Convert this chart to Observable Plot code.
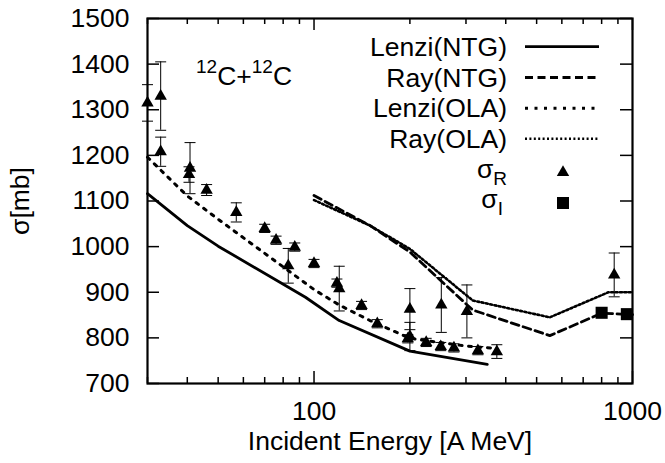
<!DOCTYPE html>
<html>
<head>
<meta charset="utf-8">
<script src="https://cdn.jsdelivr.net/npm/d3@7"></script>
<script src="https://cdn.jsdelivr.net/npm/@observablehq/plot@0.6"></script>
<style>
  html, body { margin: 0; padding: 0; background: #fff; }
  #chart svg { display: block; }
</style>
</head>
<body>
<div id="chart"></div>
<script>
// ---- Data ----
const lenziNTG_E     = [30, 40, 50, 94, 120, 200, 350];
const lenziNTG_sigma = [1116, 1046, 1001, 889, 838, 771, 742];

const rayNTG_E       = [100, 150, 200, 315, 550, 800, 1000];
const rayNTG_sigma   = [1112, 1046, 988, 861, 805, 854, 851];

const lenziOLA_E     = [30, 40, 50, 100, 120, 150, 200, 300, 375];
const lenziOLA_sigma = [1196, 1111, 1060, 906, 872, 838, 799, 782, 777];

const rayOLA_E       = [100, 150, 200, 315, 550, 840, 1000];
const rayOLA_sigma   = [1102, 1046, 995, 882, 845, 900, 900];

const sigmaR_E   = [30, 33, 33, 40.8, 40.5, 46, 57, 70, 76, 83, 87, 100, 118, 120, 141, 158, 200, 200, 197, 225, 251, 250, 275, 302, 327, 375, 876];
const sigmaR     = [1315, 1330, 1208, 1172, 1158, 1124, 1075, 1040, 1014, 958, 999, 963, 920, 908, 871, 831, 863, 803, 798, 790, 872, 781, 778, 858, 772, 770, 938];
const sigmaR_err = [40, 75, 32, 56, 17, 12, 21, 9, 9, 38, 9, 9, 9, 49, 9, 9, 45, 31, 9, 9, 60, 9, 9, 58, 9, 15, 48];

const sigmaI_E   = [800, 960];
const sigmaI     = [855, 852];

const xMajorTicks = [100, 1000];
const xMinorTicks = [30, 40, 50, 60, 70, 80, 90, 200, 300, 400, 500, 600, 700, 800, 900];
const yTicks      = [700, 800, 900, 1000, 1100, 1200, 1300, 1400, 1500];

const xLabel = "Incident Energy [A MeV]";
const yLabel = "σ[mb]";

// ---- Layout ----
const W = 665, H = 463;
const mL = 147, mR = 33, mT = 18, mB = 80;
const plotW = W - mL - mR, plotH = H - mT - mB;
const FS = 26.5, FSsub = 19;
const font = "'Liberation Sans', Arial, Helvetica, sans-serif";

const capSymbol = { draw(ctx) { ctx.moveTo(-5.5, 0); ctx.lineTo(5.5, 0); } };
const sigmaR_lo = sigmaR.map((v, i) => v - sigmaR_err[i]);
const sigmaR_hi = sigmaR.map((v, i) => v + sigmaR_err[i]);

const rayOLADash = "2,2.4";

const chart = Plot.plot({
  width: W, height: H,
  marginLeft: mL, marginRight: mR, marginTop: mT, marginBottom: mB,
  x: {type: "log", domain: [30, 1000], axis: null},
  y: {domain: [700, 1500], axis: null},
  style: {fontFamily: font, fontSize: FS + "px", background: "#fff", color: "#000"},
  marks: [
    // ticks (inward, mirrored)
    Plot.tickX(xMajorTicks, {x: d => d, insetTop: plotH - 12, stroke: "#000", strokeWidth: 1.5}),
    Plot.tickX(xMajorTicks, {x: d => d, insetBottom: plotH - 12, stroke: "#000", strokeWidth: 1.5}),
    Plot.tickX(xMinorTicks, {x: d => d, insetTop: plotH - 6, stroke: "#000", strokeWidth: 1.5}),
    Plot.tickX(xMinorTicks, {x: d => d, insetBottom: plotH - 6, stroke: "#000", strokeWidth: 1.5}),
    Plot.tickY(yTicks, {y: d => d, insetRight: plotW - 12, stroke: "#000", strokeWidth: 1.5}),
    Plot.tickY(yTicks, {y: d => d, insetLeft: plotW - 12, stroke: "#000", strokeWidth: 1.5}),
    // tick labels
    Plot.text(xMajorTicks, {x: d => d, frameAnchor: "bottom", dy: 18, lineAnchor: "top", text: d => String(d), fontSize: FS, fill: "#000"}),
    Plot.text(yTicks, {y: d => d, frameAnchor: "left", dx: -18, textAnchor: "end", lineAnchor: "middle", text: d => String(d), fontSize: FS, fill: "#000"}),
    // axis titles
    Plot.text([xLabel], {frameAnchor: "bottom", dy: 58, lineAnchor: "middle", text: d => d, fontSize: FS, fill: "#000"}),
    Plot.text([yLabel], {frameAnchor: "left", dx: -127, rotate: -90, textAnchor: "middle", lineAnchor: "middle", text: d => d, fontSize: FS, fill: "#000"}),
    // theory curves
    Plot.line(lenziNTG_E, {x: lenziNTG_E, y: lenziNTG_sigma, stroke: "#000", strokeWidth: 2.8}),
    Plot.line(rayNTG_E, {x: rayNTG_E, y: rayNTG_sigma, stroke: "#000", strokeWidth: 2.8, strokeDasharray: "8,4.5"}),
    Plot.line(lenziOLA_E, {x: lenziOLA_E, y: lenziOLA_sigma, stroke: "#000", strokeWidth: 3, strokeDasharray: "3,6.5"}),
    Plot.line(rayOLA_E, {x: rayOLA_E, y: rayOLA_sigma, stroke: "#000", strokeWidth: 2.6, strokeDasharray: rayOLADash}),
    // error bars
    Plot.ruleX(sigmaR_E, {x: sigmaR_E, y1: sigmaR_lo, y2: sigmaR_hi, stroke: "#000", strokeWidth: 1}),
    Plot.dot(sigmaR_E, {x: sigmaR_E, y: sigmaR_lo, symbol: capSymbol, fill: "none", stroke: "#000", strokeWidth: 1}),
    Plot.dot(sigmaR_E, {x: sigmaR_E, y: sigmaR_hi, symbol: capSymbol, fill: "none", stroke: "#000", strokeWidth: 1}),
    // data points
    Plot.dot(sigmaR_E, {x: sigmaR_E, y: sigmaR, symbol: "triangle", r: 4.6, fill: "#000", stroke: "none"}),
    Plot.dot(sigmaI_E, {x: sigmaI_E, y: sigmaI, symbol: "square", r: 6.8, fill: "#000", stroke: "none"}),
    Plot.frame({stroke: "#000", strokeWidth: 2.2})
  ]
});
document.getElementById("chart").appendChild(chart);

// ---- Annotation & legend (appended into the same SVG) ----
const svg = d3.select(chart);
const g = svg.append("g").attr("font-family", font).attr("fill", "#000").attr("text-anchor", "start");

const ann = g.append("text").attr("x", 196).attr("y", 85).attr("font-size", FS).attr("text-anchor", "start");
ann.append("tspan").attr("font-size", FSsub).attr("dy", -12).text("12");
ann.append("tspan").attr("dy", 12).text("C+");
ann.append("tspan").attr("font-size", FSsub).attr("dy", -12).text("12");
ann.append("tspan").attr("dy", 12).text("C");

const legendNames = ["Lenzi(NTG)", "Ray(NTG)", "Lenzi(OLA)", "Ray(OLA)"];
const legendDash  = [null, "8,4.5", "3,6.5", rayOLADash];
const legendWidth = [2.8, 2.8, 3, 2.6];
const rowY = [46.7, 77.5, 108.3, 138.8, 169.5, 200];
const textX = 507, lineX1 = 525, lineX2 = 599, symX = 563;

legendNames.forEach((name, i) => {
  g.append("text").attr("x", textX).attr("y", rowY[i] + 9).attr("text-anchor", "end").attr("font-size", FS).text(name);
  const ln = g.append("line").attr("x1", lineX1).attr("x2", lineX2).attr("y1", rowY[i]).attr("y2", rowY[i])
    .attr("stroke", "#000").attr("stroke-width", legendWidth[i]);
  if (legendDash[i]) ln.attr("stroke-dasharray", legendDash[i]);
});

const sR = g.append("text").attr("x", textX).attr("y", rowY[4] + 8).attr("text-anchor", "end").attr("font-size", FS);
sR.append("tspan").text("σ");
sR.append("tspan").attr("font-size", FSsub).attr("dy", 7).text("R");
const sI = g.append("text").attr("x", textX - 4).attr("y", rowY[5] + 8).attr("text-anchor", "end").attr("font-size", FS);
sI.append("tspan").text("σ");
sI.append("tspan").attr("font-size", FSsub).attr("dy", 7).text("I");

g.append("path").attr("transform", `translate(${symX},${rowY[4] + 3})`).attr("d", d3.symbol(d3.symbolTriangle, Math.PI * 4.6 * 4.6)()).attr("fill", "#000");
g.append("path").attr("transform", `translate(${symX},${rowY[5] + 3})`).attr("d", d3.symbol(d3.symbolSquare, Math.PI * 6.8 * 6.8)()).attr("fill", "#000");
</script>
</body>
</html>
